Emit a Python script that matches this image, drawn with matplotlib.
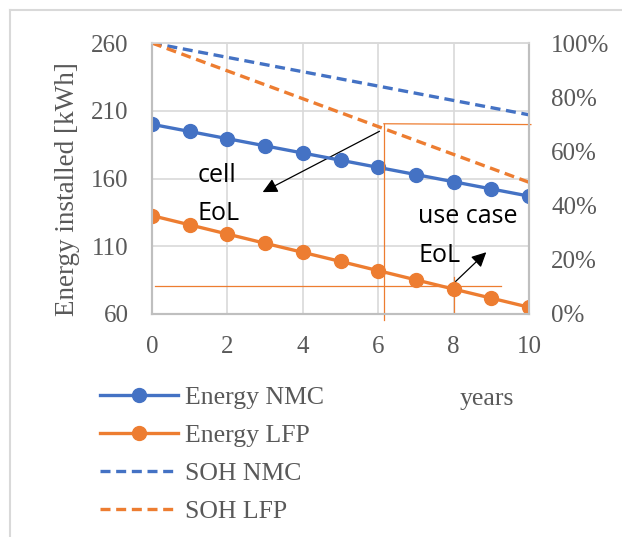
import matplotlib
matplotlib.use("Agg")
import matplotlib.pyplot as plt
from matplotlib.lines import Line2D
from matplotlib.ticker import FuncFormatter

years = [0, 1, 2, 3, 4, 5, 6, 7, 8, 9, 10]
energy_nmc = [200, 194.7, 189.4, 184.1, 178.8, 173.5, 168.2, 162.9, 157.6, 152.3, 147]
energy_lfp = [132.6, 125.8, 119, 112.2, 105.5, 98.8, 92, 85.2, 78.4, 71.7, 65]
soh_nmc = [100, 97.35, 94.7, 92.05, 89.4, 86.75, 84.1, 81.45, 78.8, 76.15, 73.5]
soh_lfp = [100, 94.86, 89.72, 84.58, 79.44, 74.3, 69.16, 64.02, 58.88, 53.74, 48.6]

left_ticks = [60, 110, 160, 210, 260]
right_ticks = [0, 20, 40, 60, 80, 100]
x_ticks = [0, 2, 4, 6, 8, 10]

cell_eol_year = 6.15
cell_eol_soh = 70.2
use_case_year = 8.0
use_case_energy = 81

BLUE = "#4472C4"
ORANGE = "#ED7D31"
GRID = "#d9d9d9"
AXC = "#bfbfbf"
TXT = "#595959"
SERIF = "Liberation Serif"
SANS = "Open Sans"
FS = 18
FS_SANS = 18

fig = plt.figure(figsize=(6.22, 5.37), dpi=100)
ax = fig.add_axes([152/622, 1-314/537, (529-152)/622, (314-43)/537])
ax2 = ax.twinx()

ax.set_xlim(0, 10)
ax.set_ylim(60, 260)
ax2.set_ylim(0, 100)
ax.set_xticks(x_ticks)
ax.set_yticks(left_ticks)
ax2.set_yticks(right_ticks)
ax2.yaxis.set_major_formatter(FuncFormatter(lambda v, p: f"{int(v)}%"))

ax.grid(True, color=GRID, lw=1.2)
ax.set_axisbelow(True)
for a in (ax, ax2):
    a.spines["top"].set_color(GRID)
    a.spines["top"].set_linewidth(1.2)
    for s in ("left", "right", "bottom"):
        a.spines[s].set_color(AXC)
        a.spines[s].set_linewidth(1.5)
    a.tick_params(length=0, labelsize=FS, labelcolor=TXT)
    for lab in a.get_xticklabels() + a.get_yticklabels():
        lab.set_fontfamily(SERIF)
ax.tick_params(axis="x", pad=16)
ax.tick_params(axis="y", pad=17)
ax2.tick_params(axis="y", pad=16)

lw = 2.4
ax.plot(years, energy_nmc, color=BLUE, lw=lw, marker="o", ms=10, label="Energy NMC", zorder=5)
ax.plot(years, energy_lfp, color=ORANGE, lw=lw, marker="o", ms=10, label="Energy LFP", zorder=5)
ax2.plot(years, soh_nmc, color=BLUE, lw=lw, dashes=(3, 1.7), label="SOH NMC")
ax2.plot(years, soh_lfp, color=ORANGE, lw=lw, dashes=(3, 1.7), label="SOH LFP")

# EoL guide lines
ax2.plot([cell_eol_year, cell_eol_year], [-2.2, cell_eol_soh], color=ORANGE, lw=0.9, clip_on=False)
ax2.plot([cell_eol_year, 10.05], [cell_eol_soh, cell_eol_soh - 0.3], color=ORANGE, lw=0.9, clip_on=False)
ax.plot([0.08, 9.27], [use_case_energy, use_case_energy], color=ORANGE, lw=0.9)
ax.plot([use_case_year, use_case_year], [60, 87], color=ORANGE, lw=0.9)

# arrows
ax.annotate("", xy=(2.87, 149), xytext=(6.1, 195.8),
            arrowprops=dict(arrowstyle="-|>", color="black", lw=0.9, mutation_scale=22))
ax.annotate("", xy=(8.92, 107), xytext=(8.0, 82.6),
            arrowprops=dict(arrowstyle="-|>", color="black", lw=0.9, mutation_scale=22))

ax.text(1.22, 157.4, "cell", fontsize=FS_SANS, family=SANS, va="baseline", ha="left", zorder=6)
ax.text(1.22, 129.4, "EoL", fontsize=FS_SANS, family=SANS, va="baseline", ha="left", zorder=6)
ax.text(7.06, 127, "use case", fontsize=FS_SANS, family=SANS, va="baseline", ha="left", zorder=6)
ax.text(7.06, 98.6, "EoL", fontsize=FS_SANS, family=SANS, va="baseline", ha="left", zorder=6)

fig.text(67/622, 1-189/537, "Energy installed [kWh]", rotation=90, ha="center", va="center",
         fontsize=FS + 1.5, family=SERIF, color=TXT)
fig.text(460/622, 1-399/537, "years", ha="left", va="center", fontsize=FS + 0.5, family=SERIF, color=TXT)

leg_handles = [
    Line2D([], [], color=BLUE, lw=lw, marker="o", ms=10),
    Line2D([], [], color=ORANGE, lw=lw, marker="o", ms=10),
    Line2D([], [], color=BLUE, lw=lw, dashes=(3, 1.7)),
    Line2D([], [], color=ORANGE, lw=lw, dashes=(3, 1.7)),
]
leg = fig.legend(leg_handles, ["Energy NMC", "Energy LFP", "SOH NMC", "SOH LFP"],
                 loc="upper left", bbox_to_anchor=(100/622, 1-386/537), frameon=False,
                 borderpad=0, borderaxespad=0, handlelength=3.05, handletextpad=0.25,
                 labelspacing=0.58, prop=dict(family=SERIF, size=FS + 0.5))
for t in leg.get_texts():
    t.set_color(TXT)

# outer frame (top and left edges)
fig.add_artist(Line2D([10/622, 1.0], [1-10/537, 1-10/537], color=GRID, lw=1.5))
fig.add_artist(Line2D([10/622, 10/622], [0, 1-10/537], color=GRID, lw=1.5))

fig.savefig("out.png", dpi=100)
